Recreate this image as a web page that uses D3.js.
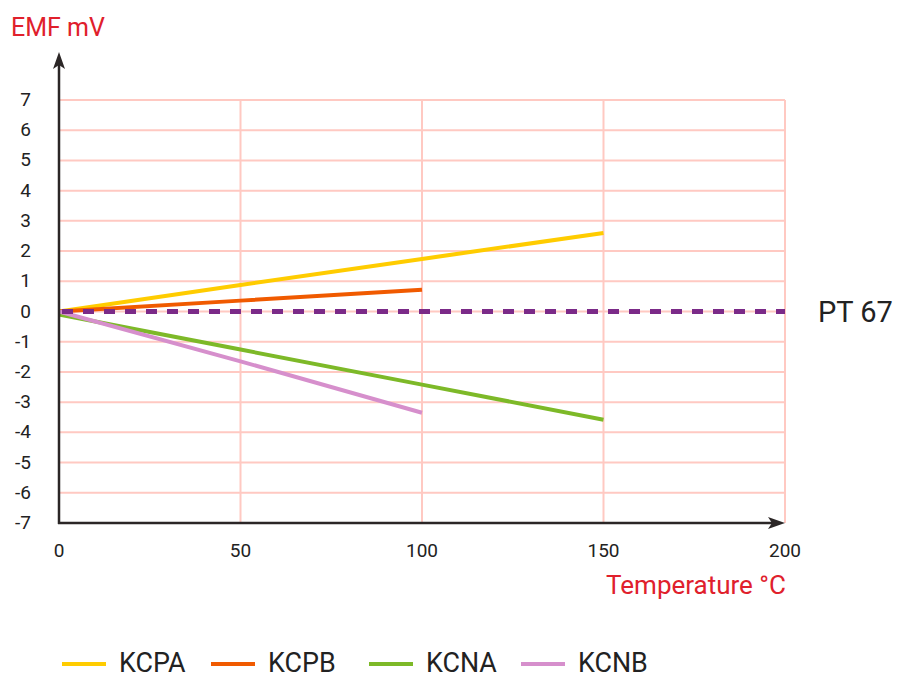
<!DOCTYPE html>
<html><head><meta charset="utf-8">
<script src="https://cdn.jsdelivr.net/npm/d3@7"></script>
<style>
body{margin:0;background:#fff;}
svg{display:block;}
text{font-family:"Roboto","Noto Sans",sans-serif;}
</style></head>
<body><svg id="c" width="897" height="679"></svg>
<script>
const temps = [0, 50, 100, 150];
const kcpa = [0, 0.88, 1.74, 2.6];
const kcpb = [0, 0.36, 0.72];
const kcna = [-0.1, -1.26, -2.42, -3.58];
const kcnb = [0, -1.65, -3.35];
const pt67Temps = [0, 200];
const pt67 = [0, 0];
const xTicks = [0, 50, 100, 150, 200];
const yTicks = [-7, -6, -5, -4, -3, -2, -1, 0, 1, 2, 3, 4, 5, 6, 7];
const seriesNames = ["KCPA", "KCPB", "KCNA", "KCNB"];
const seriesColors = ["#FFCC00", "#F05A00", "#7DB928", "#D68FCC"];
const seriesValues = [kcpa, kcpb, kcna, kcnb];

const svg = d3.select("#c");
const x = d3.scaleLinear().domain([0, 200]).range([59, 785]);
const y = d3.scaleLinear().domain([-7, 7]).range([523, 100]);
const grid = "#FFC9C2";

// horizontal grid
svg.append("g").selectAll("line").data(yTicks.filter(d => d > -7)).join("line")
  .attr("x1", x(0)).attr("x2", x(200)).attr("y1", d => y(d)).attr("y2", d => y(d))
  .attr("stroke", grid).attr("stroke-width", 2);
// vertical grid
svg.append("g").selectAll("line").data(xTicks.filter(d => d > 0)).join("line")
  .attr("x1", d => x(d)).attr("x2", d => x(d)).attr("y1", y(7)).attr("y2", y(-7))
  .attr("stroke", grid).attr("stroke-width", 2);

// series lines
const line = d3.line().x((d, i) => x(temps[i])).y(d => y(d));
seriesValues.forEach((vals, k) => {
  svg.append("path").datum(vals).attr("d", line)
    .attr("fill", "none").attr("stroke", seriesColors[k]).attr("stroke-width", 4);
});
// PT 67 dashed
svg.append("path").datum(pt67)
  .attr("d", d3.line().x((d, i) => x(pt67Temps[i])).y(d => y(d)))
  .attr("fill", "none").attr("stroke", "#7B2A88").attr("stroke-width", 5)
  .attr("stroke-dasharray", "11,10").attr("stroke-dashoffset", -3);
svg.append("text").attr("x", 818).attr("y", y(0) + 10).attr("font-size", 29)
  .attr("fill", "#222").text("PT 67");

// axes
const axc = "#2b2626";
svg.append("line").attr("x1", x(0)).attr("x2", x(0)).attr("y1", 64).attr("y2", y(-7) + 1)
  .attr("stroke", axc).attr("stroke-width", 2.5);
svg.append("path").attr("d", `M${x(0)},52 L${x(0) - 6},69 L${x(0)},65 L${x(0) + 6},69 Z`).attr("fill", axc);
svg.append("line").attr("x1", x(0) - 1).attr("x2", x(200) - 10).attr("y1", y(-7)).attr("y2", y(-7))
  .attr("stroke", axc).attr("stroke-width", 2.5);
svg.append("path").attr("d", `M${x(200)},${y(-7)} L${x(200) - 17},${y(-7) - 6} L${x(200) - 13},${y(-7)} L${x(200) - 17},${y(-7) + 6} Z`).attr("fill", axc);

// tick labels
svg.append("g").selectAll("text").data(yTicks).join("text")
  .attr("x", 31).attr("y", d => y(d) + 6).attr("text-anchor", "end")
  .attr("font-size", 19).attr("fill", "#222").text(d => d);
svg.append("g").selectAll("text").data(xTicks).join("text")
  .attr("x", d => x(d)).attr("y", 557).attr("text-anchor", "middle")
  .attr("font-size", 19).attr("fill", "#222").text(d => d);

// axis titles
svg.append("text").attr("x", 11).attr("y", 36).attr("font-size", 25).attr("fill", "#E0202C").text("EMF mV");
svg.append("text").attr("x", 786).attr("y", 594).attr("text-anchor", "end").attr("font-size", 26).attr("fill", "#E0202C").text("Temperature °C");

// legend
const legX = [62, 211, 369, 521];
const lg = svg.append("g").selectAll("g").data(seriesNames).join("g")
  .attr("transform", (d, i) => `translate(${legX[i]},664)`);
lg.append("line").attr("x1", 0).attr("x2", 44).attr("y1", 0).attr("y2", 0)
  .attr("stroke", (d, i) => seriesColors[i]).attr("stroke-width", 4);
lg.append("text").attr("transform", "translate(57,8) scale(0.96,1)")
  .attr("font-size", 28).attr("fill", "#222").text(d => d);
</script></body></html>
